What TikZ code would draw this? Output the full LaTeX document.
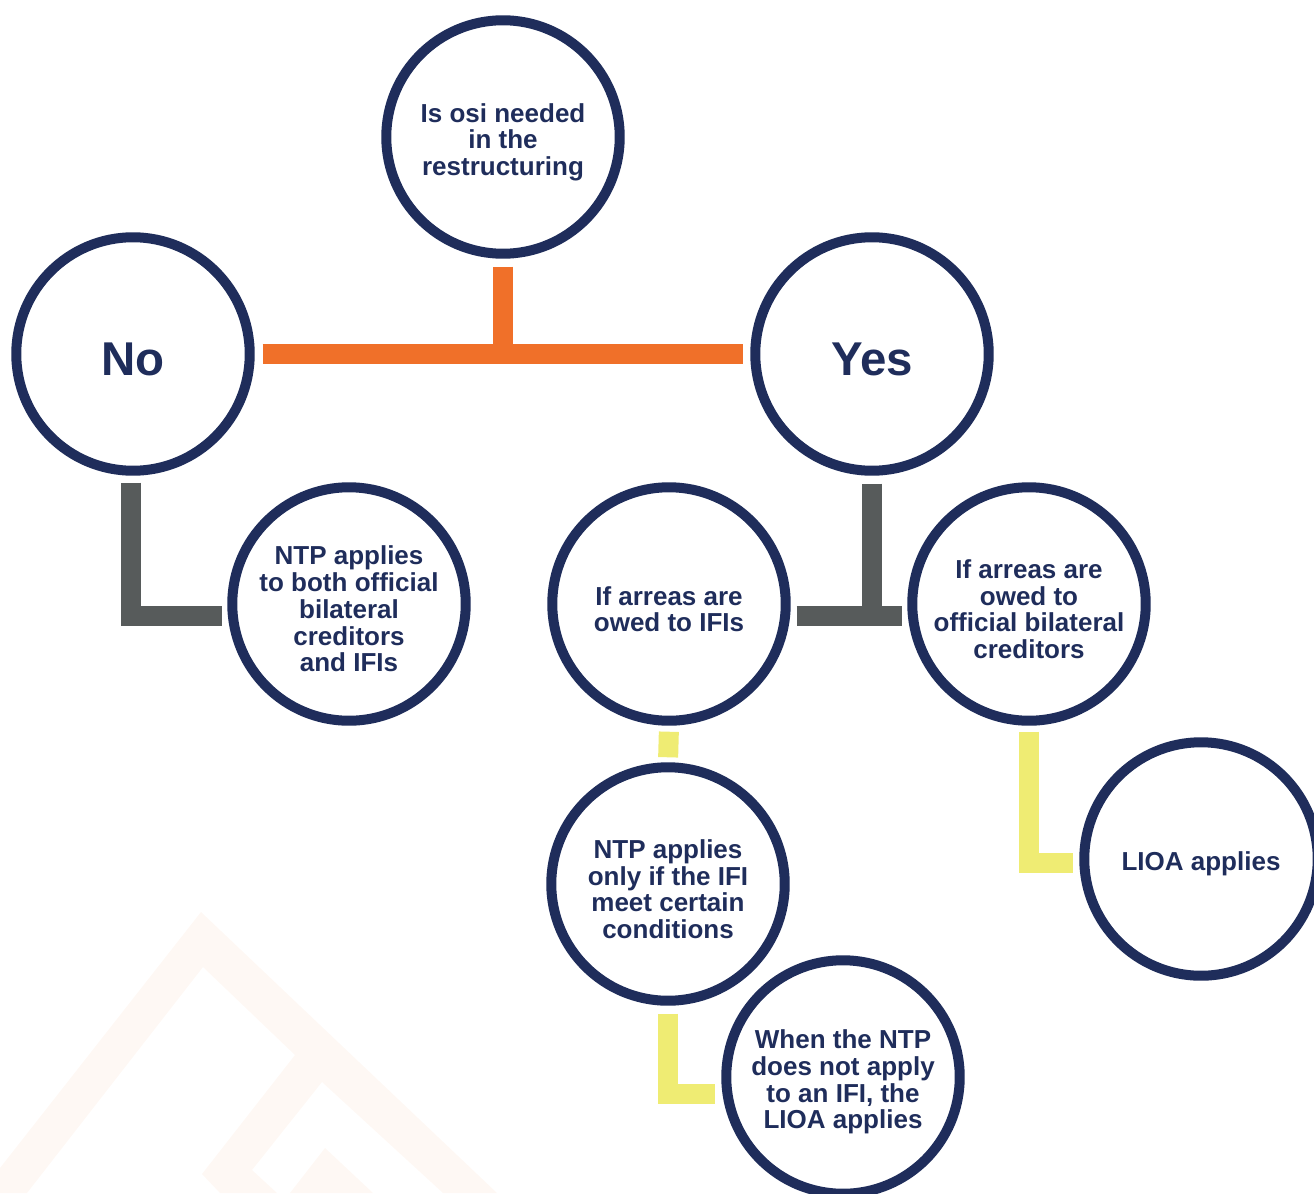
\documentclass[tikz,border=0pt]{standalone}
\usepackage{fontspec}
\setmainfont{Liberation Sans}
\usetikzlibrary{calc}
\definecolor{navy}{RGB}{31,45,91}
\definecolor{orangebar}{RGB}{240,112,41}
\definecolor{greybar}{RGB}{87,91,91}
\definecolor{yellowbar}{RGB}{239,236,115}
\definecolor{wmark}{RGB}{254,248,244}
\newcommand{\lineup}{\rule{0pt}{0.58cm}}
\tikzset{
    vertex/.style={circle,draw=navy,line width=0.2cm,minimum size=4.67cm,inner sep=0pt,text=navy,align=center,font=\fontsize{14.8}{15.2}\selectfont\bfseries},
    answer/.style={vertex,font=\fontsize{27}{30}\selectfont\bfseries,execute at begin node={\rule{0pt}{0.88cm}}},
    oedge/.style={-,line width=0.4cm,draw=orangebar},
    gedge/.style={-,line width=0.4cm,draw=greybar},
    yedge/.style={-,line width=0.4cm,draw=yellowbar},
}

\begin{document}
\begin{tikzpicture}[x=0.02cm,y=-0.02cm]
\useasboundingbox (0,0) rectangle (1314,1193);
% faint logo in the corner
\fill[wmark] (0,1168) -- (201,912) -- (497,1193) -- (443,1193) -- (322,1082) -- (252,1170) -- (277,1193) -- (220,1193) -- (202,1174) -- (295,1055) -- (203,967) -- (27,1193) -- (0,1193) -- cycle;
\fill[wmark] (290,1193) -- (325,1148) -- (373,1193) -- cycle;

\node[vertex] (q) at (503,137) {\lineup Is osi needed\\in the\\restructuring};
\node[answer] (no) at (133,354) {No};
\node[answer] (yes) at (872,354) {Yes};
\node[vertex] (ntpboth) at (349,604) {\lineup NTP applies\\to both official\\bilateral\\creditors\\and IFIs};
\node[vertex] (ifi) at (669,604) {\lineup If arreas are\\owed to IFIs};
\node[vertex] (obc) at (1029,604) {\lineup If arreas are\\owed to\\official bilateral\\creditors};
\node[vertex] (ntponly) at (668,884) {\lineup NTP applies\\only if the IFI\\meet certain\\conditions};
\node[vertex] (lioa) at (1201,859) {\lineup LIOA applies};
\node[vertex] (ntpnot) at (843,1077) {\lineup When the NTP\\does not apply\\to an IFI, the\\LIOA applies};

\draw[oedge, shorten <=0.16cm, shorten >=0.15cm] (no.east) -- (yes.west);
\draw[oedge, shorten <=0.16cm] (q.south) -- (q.south |- no.east);
\draw[gedge, shorten <=0.14cm, shorten >=0.1cm] ($(no.south)+(-2,0)$) |- ($(ntpboth.west)+(0,12)$);
\draw[gedge, shorten <=0.16cm] (yes.south) -- ($(yes.south |- ifi.east)+(0,12)$);
\draw[gedge, shorten <=0.12cm, shorten >=0.1cm] ($(ifi.east)+(0,12)$) -- ($(obc.west)+(0,12)$);
\draw[yedge, shorten <=0.12cm, shorten >=0.1cm] (ifi.south) -- (ntponly.north);
\draw[yedge, shorten <=0.12cm, shorten >=0.12cm] (obc.south) |- ($(lioa.west)+(0,4)$);
\draw[yedge, shorten <=0.16cm, shorten >=0.12cm] (ntponly.south) |- ($(ntpnot.west)+(0,17)$);
\end{tikzpicture}
\end{document}
